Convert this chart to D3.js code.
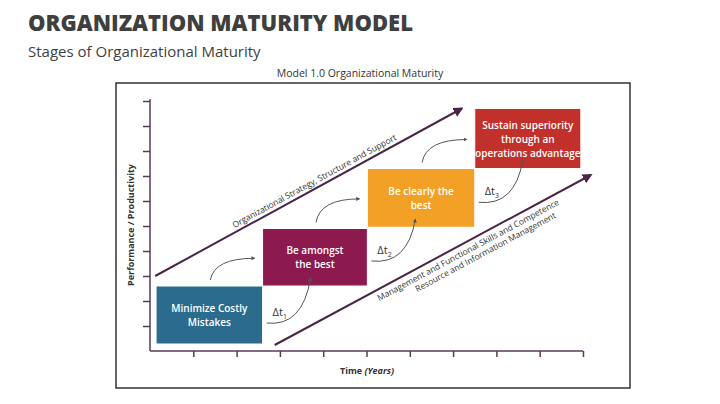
<!DOCTYPE html>
<html><head><meta charset="utf-8">
<script src="https://cdn.jsdelivr.net/npm/d3@7"></script>
<style>body{margin:0;background:#fff;font-family:"Open Sans",Lato,sans-serif}</style>
</head><body><svg id="c" width="720" height="404"></svg>
<script>
const stageLabels=[["Minimize Costly","Mistakes"],["Be amongst","the best"],["Be clearly the","best"],["Sustain superiority","through an","operations advantage"]];
const stageX0=[0.14,2.6,5.02,7.5];
const stageX1=[2.6,5.02,7.5,9.95];
const stageY0=[0.28,2.6,4.95,7.3];
const stageY1=[2.6,4.9,7.3,9.7];
const stageColors=["#2b6c8e","#8c1a4f","#f2a126","#c1302a"];
const deltaLabels=["1","2","3"];
const xTicks=[1,2,3,4,5,6,7,8,9,10];
const yTicks=[1,2,3,4,5,6,7,8,9,10];
const upperLine=[[0.12,3.0],[7.2,9.7]];
const lowerLine=[[2.88,0.24],[10.18,7.04]];

const svg=d3.select("#c");
const x=d3.scaleLinear().domain([0,10]).range([150,583]);
const y=d3.scaleLinear().domain([0,10]).range([351,101]);
const ac="#4a2547";
const defs=svg.append("defs");
defs.append("marker").attr("id","ah").attr("viewBox","0 0 10 10").attr("refX",8).attr("refY",5)
 .attr("markerWidth",5).attr("markerHeight",5).attr("orient","auto")
 .append("path").attr("d","M0,0L10,5L0,10z").attr("fill",ac);
defs.append("marker").attr("id","ah2").attr("viewBox","0 0 10 10").attr("refX",8).attr("refY",5)
 .attr("markerWidth",4).attr("markerHeight",4).attr("orient","auto")
 .append("path").attr("d","M0,0L10,5L0,10z").attr("fill","#555");

svg.append("text").attr("x",28).attr("y",31).attr("font-size",22).attr("font-weight",800).attr("fill","#3f3f3f").text("ORGANIZATION MATURITY MODEL");
svg.append("text").attr("x",28).attr("y",57).attr("font-size",15).attr("fill","#3f3f3f").text("Stages of Organizational Maturity");
svg.append("text").attr("x",360).attr("y",77).attr("text-anchor","middle").attr("font-size",10.5).attr("fill","#333").text("Model 1.0 Organizational Maturity");
svg.append("rect").attr("x",116).attr("y",83).attr("width",514).attr("height",305).attr("fill","none").attr("stroke","#333").attr("stroke-width",1.5);

const gx=svg.append("g").attr("transform","translate(0,351)")
 .call(d3.axisBottom(x).tickValues(xTicks).tickSize(6).tickFormat(""));
const gy=svg.append("g").attr("transform","translate(150,0)")
 .call(d3.axisLeft(y).tickValues(yTicks).tickSize(7).tickFormat(""));
[gx,gy].forEach(g=>{g.selectAll("path,line").attr("stroke","#5a3a5a").attr("stroke-width",1.5);});
gx.select(".domain").attr("d","M150,0H583");
gy.select(".domain").attr("d","M0,351V99");

svg.append("text").attr("x",367).attr("y",374).attr("text-anchor","middle").attr("font-size",9).attr("font-weight",700).attr("fill","#333")
 .html('Time <tspan font-style="italic">(Years)</tspan>');
svg.append("text").attr("transform","translate(134,225) rotate(-90)").attr("text-anchor","middle").attr("font-size",9).attr("font-weight",700).attr("fill","#333").text("Performance / Productivity");

stageLabels.forEach((lab,i)=>{
 const x0=x(stageX0[i]),x1=x(stageX1[i]),y0=y(stageY1[i]),y1=y(stageY0[i]);
 svg.append("rect").attr("x",x0).attr("y",y0).attr("width",x1-x0).attr("height",y1-y0).attr("fill",stageColors[i]).attr("stroke","#fff").attr("stroke-width",1);
 const cx=(x0+x1)/2,cy=(y0+y1)/2,lh=14;
 lab.forEach((t,j)=>svg.append("text").attr("x",cx).attr("y",cy+(j-(lab.length-1)/2)*lh+4).attr("text-anchor","middle")
  .attr("font-size",10).attr("font-weight",600).attr("fill","#fff").text(t));
});

// up arrows between boxes (above)
for(let i=0;i<3;i++){
 const sx=x((stageX0[i]+stageX1[i])/2)+1, sy=y(stageY1[i])-6;
 const ex=x(stageX0[i+1])-8, ey=y((stageY0[i+1]+stageY1[i+1])/2)+1;
 svg.append("path").attr("d",`M ${sx} ${sy} Q ${sx+4} ${ey} ${ex} ${ey}`).attr("fill","none").attr("stroke","#555").attr("stroke-width",1).attr("marker-end","url(#ah2)");
}
// delta arrows (below)
for(let i=0;i<3;i++){
 const sx=x(stageX1[i])+4, sy=y(stageY0[i])-(i==0?21:25);
 const ex=x(stageX1[i])+48, ey=y(stageY0[i+1])-8;
 svg.append("path").attr("d",`M ${sx} ${sy} Q ${ex-8} ${sy+4} ${ex} ${ey}`).attr("fill","none").attr("stroke","#555").attr("stroke-width",1).attr("marker-end","url(#ah2)");
 svg.append("text").attr("x",sx+6).attr("y",sy-7).attr("font-size",11).attr("fill","#333")
  .html(`Δt<tspan font-size="7" dy="3">${deltaLabels[i]}</tspan>`);
}

const line=d3.line().x(d=>x(d[0])).y(d=>y(d[1]));
[upperLine,lowerLine].forEach(l=>svg.append("path").attr("d",line(l)).attr("stroke",ac).attr("stroke-width",2).attr("fill","none").attr("marker-end","url(#ah)"));
function along(l,t,off,txt,fs){
 const p0=[x(l[0][0]),y(l[0][1])],p1=[x(l[1][0]),y(l[1][1])];
 const a=Math.atan2(p1[1]-p0[1],p1[0]-p0[0]);
 const px=p0[0]+(p1[0]-p0[0])*t+Math.sin(a)*off, py=p0[1]+(p1[1]-p0[1])*t-Math.cos(a)*off;
 svg.append("text").attr("transform",`translate(${px},${py}) rotate(${a*180/Math.PI})`).attr("text-anchor","middle").attr("font-size",fs).attr("fill","#333").text(txt);
}
along(upperLine,0.53,4,"Organizational Strategy, Structure and Support",8.5);
along(lowerLine,0.6,-11,"Management and Functional Skills and Competence",8.5);
along(lowerLine,0.64,-21,"Resource and Information Management",8.5);
</script></body></html>
